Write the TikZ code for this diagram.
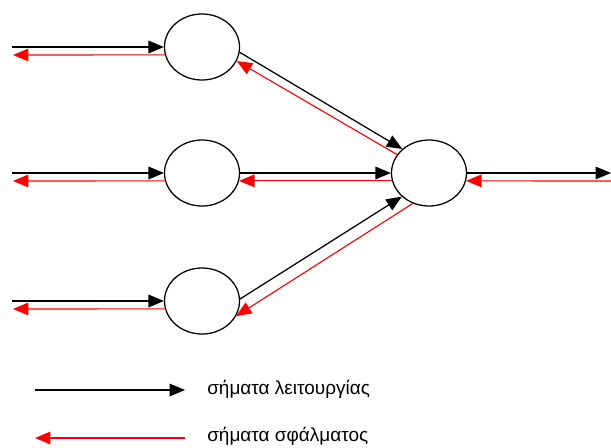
\documentclass[tikz,border=0pt]{standalone}
\usepackage{fontspec}
\newfontfamily\greek{Liberation Sans}
\usetikzlibrary{arrows.meta,shapes.geometric}

\begin{document}
\begin{tikzpicture}[x=0.025cm,y=-0.025cm,
  >={Triangle[length=11pt,width=9pt]},
  neuron/.style={draw,ellipse,line width=0.9pt,minimum width=1.875cm,minimum height=1.65cm,inner sep=0pt},
  sig/.style={line width=0.9pt},
  err/.style={red,line width=0.8pt},
  legend/.style={anchor=west,inner sep=0pt,font=\greek\fontsize{13.5}{16}\selectfont}]
  \useasboundingbox[fill=white] (0,0) rectangle (611,447);
  % neurons
  \node[neuron] (h1) at (202,47) {};
  \node[neuron] (h2) at (202,173) {};
  \node[neuron] (h3) at (202,301) {};
  \node[neuron] (o) at (429,173) {};
  % free ends
  \coordinate (x1) at (12,47);
  \coordinate (e1) at (13,55);
  \coordinate (x2) at (12,173);
  \coordinate (e2) at (13,181);
  \coordinate (x3) at (12,301);
  \coordinate (e3) at (13,309);
  \coordinate (y) at (611,173);
  \coordinate (ey) at (611,181);
  % forward signals
  \draw [sig, ->] (x1) -- (h1.west);
  \draw [sig, ->] (x2) -- (h2.west);
  \draw [sig, ->] (x3) -- (h3.west);
  \draw [sig, ->] (h1.-8) -- (o.138);
  \draw [sig, ->] (h2.east) -- (o.west);
  \draw [sig, ->] (h3.3) -- (o.221);
  \draw [sig, ->] (o.east) -- (y);
  % error signals
  \draw [err, ->] (ey) -- (o.-12);
  \draw [err, ->] (o.150) -- (h1.-22);
  \draw [err, ->] (o.192) -- (h2.-12);
  \draw [err, ->] (o.242) -- (h3.-24);
  \draw [err, ->] (h1.192) -- (e1);
  \draw [err, ->] (h2.192) -- (e2);
  \draw [err, ->] (h3.192) -- (e3);
  % legend
  \coordinate (k1) at (35,390);
  \coordinate (k2) at (185,390);
  \coordinate (k3) at (185,438);
  \coordinate (k4) at (35,438);
  \draw [sig, ->] (k1) -- (k2);
  \draw [err, ->] (k3) -- (k4);
  \node[legend] (t1) at (207,389) {σήματα λειτουργίας};
  \node[legend] (t2) at (207,436) {σήματα σφάλματος};
\end{tikzpicture}
\end{document}
